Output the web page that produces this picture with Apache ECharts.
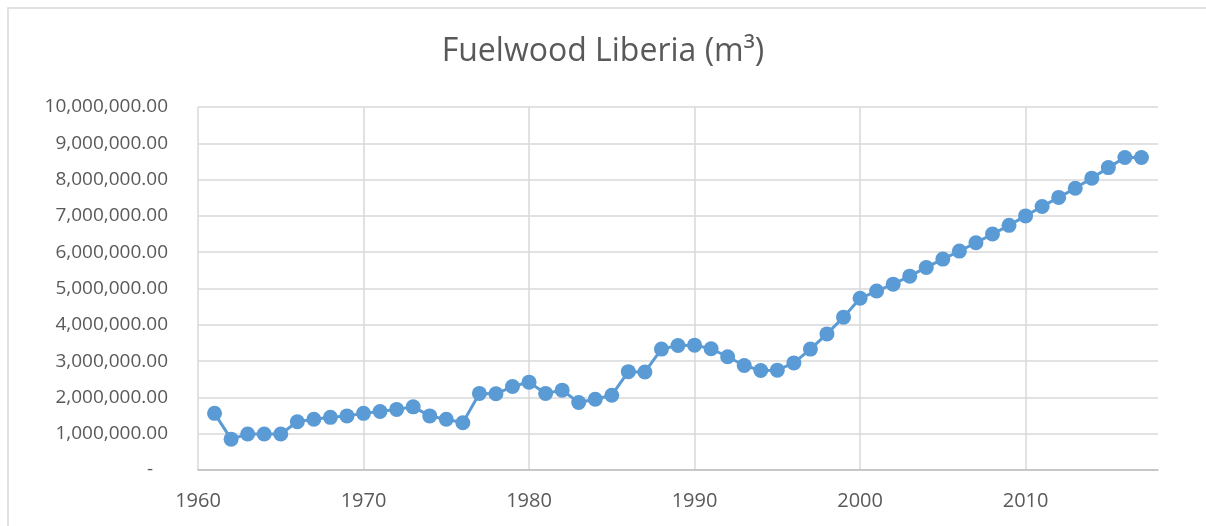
<!DOCTYPE html>
<html>
<head>
<meta charset="utf-8">
<title>Fuelwood Liberia</title>
<script src="https://cdn.jsdelivr.net/npm/echarts@6/dist/echarts.min.js"></script>
<style>
  html, body { margin: 0; padding: 0; background: #fff; }
  #main { width: 1206px; height: 526px; }
</style>
</head>
<body>
<div id="main"></div>
<script>
// years on the x axis
var years = [1961, 1962, 1963, 1964, 1965, 1966, 1967, 1968, 1969, 1970,
  1971, 1972, 1973, 1974, 1975, 1976, 1977, 1978, 1979, 1980,
  1981, 1982, 1983, 1984, 1985, 1986, 1987, 1988, 1989, 1990,
  1991, 1992, 1993, 1994, 1995, 1996, 1997, 1998, 1999, 2000,
  2001, 2002, 2003, 2004, 2005, 2006, 2007, 2008, 2009, 2010,
  2011, 2012, 2013, 2014, 2015, 2016, 2017];

// fuelwood, m3
var fuelwood = [1560000, 850000, 990000, 990000, 990000, 1330000, 1400000, 1450000, 1490000, 1560000,
  1610000, 1670000, 1740000, 1490000, 1400000, 1300000, 2110000, 2100000, 2300000, 2420000,
  2110000, 2200000, 1860000, 1950000, 2060000, 2710000, 2700000, 3330000, 3430000, 3440000,
  3340000, 3120000, 2880000, 2740000, 2750000, 2950000, 3330000, 3750000, 4210000, 4730000,
  4930000, 5120000, 5340000, 5580000, 5810000, 6030000, 6260000, 6500000, 6740000, 7000000,
  7260000, 7510000, 7760000, 8040000, 8330000, 8610000, 8610000];

var yTicks = [0, 10000000, 1000000]; // min, max, step

var points = [];
for (var i = 0; i < years.length; i++) {
  points.push([years[i], fuelwood[i]]);
}

var myChart = echarts.init(document.getElementById('main'));

var option = {
  backgroundColor: '#ffffff',
  animation: false,
  title: {
    text: 'Fuelwood Liberia (m\u00b3)',
    left: 'center',
    top: 31,
    textStyle: {
      fontFamily: 'Open Sans',
      fontSize: 32,
      fontWeight: 'normal',
      color: '#595959'
    }
  },
  // outer chart border (only left and top edges are inside the picture)
  graphic: [{
    type: 'rect',
    shape: { x: 8, y: 8, width: 1300, height: 600 },
    style: { fill: 'none', stroke: '#d9d9d9', lineWidth: 1.5 },
    silent: true
  }],
  grid: {
    left: 198,
    right: 48,
    top: 107,
    bottom: 56
  },
  xAxis: {
    type: 'value',
    min: 1960,
    max: 2018,
    interval: 10,
    axisLine: { show: true, lineStyle: { color: '#bfbfbf', width: 1.5 } },
    axisTick: { show: false },
    axisLabel: {
      showMaxLabel: false,
      margin: 21,
      fontFamily: 'Open Sans',
      fontSize: 20,
      color: '#595959',
      formatter: function (v) { return v % 10 === 0 ? String(v) : ''; }
    },
    splitLine: {
      show: true,
      showMaxLine: false,
      lineStyle: { color: '#d9d9d9', width: 1.5 }
    }
  },
  yAxis: {
    type: 'value',
    min: yTicks[0],
    max: yTicks[1],
    interval: yTicks[2],
    axisLine: { show: false },
    axisTick: { show: false },
    axisLabel: {
      margin: 30,
      fontFamily: 'Open Sans',
      fontSize: 19,
      color: '#595959',
      formatter: function (v) {
        if (v === 0) return '-   ';
        return v.toLocaleString('en-US', { minimumFractionDigits: 2, maximumFractionDigits: 2 });
      }
    },
    splitLine: {
      show: true,
      lineStyle: { color: '#d9d9d9', width: 1.5 }
    }
  },
  series: [{
    name: 'Fuelwood',
    type: 'line',
    data: points,
    symbol: 'circle',
    symbolSize: 15,
    itemStyle: { color: '#5b9bd5' },
    lineStyle: { color: '#5b9bd5', width: 3 }
  }]
};

myChart.setOption(option);
</script>
</body>
</html>
